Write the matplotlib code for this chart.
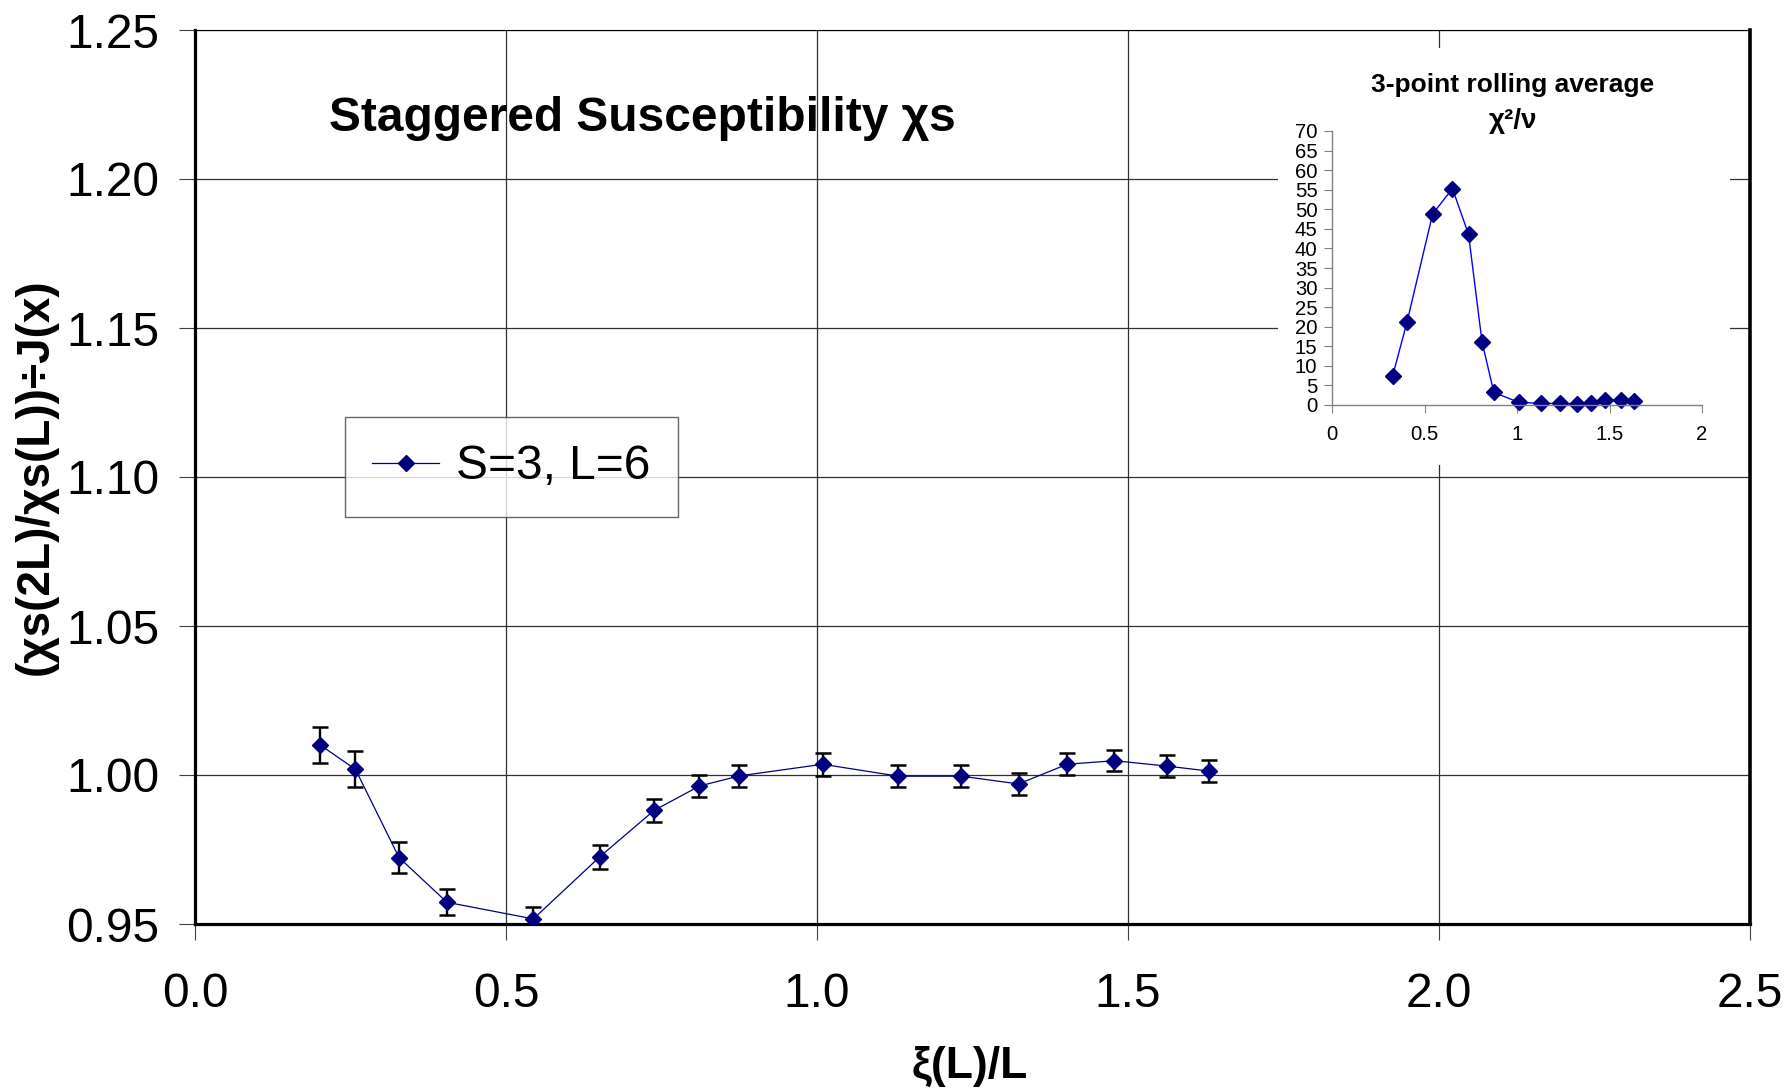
import matplotlib
matplotlib.use("Agg")
import matplotlib.pyplot as plt
from matplotlib.patches import Rectangle
from matplotlib.ticker import FormatStrFormatter, MultipleLocator

plt.rcParams['font.family'] = ['Liberation Sans', 'DejaVu Sans']

# Finite-size scaling ratio for S=3, L=6
xi_over_L = [0.201, 0.258, 0.328, 0.405, 0.544, 0.651, 0.738, 0.811, 0.875,
             1.009, 1.131, 1.232, 1.324, 1.402, 1.478, 1.562, 1.631]
ratio = [1.0101, 1.0019, 0.9723, 0.9573, 0.9517, 0.9726, 0.9881, 0.9963, 0.9997,
         1.0036, 0.9996, 0.9996, 0.9970, 1.0036, 1.0048, 1.0030, 1.0013]
ratio_err = [0.0060, 0.0060, 0.0051, 0.0043, 0.0041, 0.0040, 0.0038, 0.0038, 0.0038,
             0.0038, 0.0037, 0.0037, 0.0036, 0.0037, 0.0036, 0.0036, 0.0036]

# 3-point rolling average of chi^2 / nu (starts at the third point)
chi2_x = xi_over_L[2:]
chi2_nu = [7.5, 21.1, 48.8, 55.3, 43.6, 16.1, 3.2, 0.7, 0.4, 0.4, 0.3, 0.6, 1.3, 1.3, 1.1]

W, H = 1791, 1090
fig = plt.figure(figsize=(W / 100, H / 100), dpi=100)
fig.patch.set_facecolor('white')

navy = '#000080'

ax = fig.add_axes([195 / W, 1 - 924 / H, 1555 / W, 894 / H])
ax.set_xlim(0, 2.5)
ax.set_ylim(0.95, 1.25)
ax.xaxis.set_major_locator(MultipleLocator(0.5))
ax.yaxis.set_major_locator(MultipleLocator(0.05))
ax.xaxis.set_major_formatter(FormatStrFormatter('%.1f'))
ax.yaxis.set_major_formatter(FormatStrFormatter('%.2f'))
ax.grid(True, color='#303030', lw=0.9, zorder=0)
ax.set_axisbelow(True)

ax.tick_params(axis='both', direction='out', length=11.5, width=0.8,
               color='#404040', labelsize=34.5)
ax.tick_params(axis='x', pad=23)
ax.tick_params(axis='y', pad=14)

for side, lw in [('left', 2.3), ('bottom', 2.3), ('right', 2.6), ('top', 0.8)]:
    ax.spines[side].set_linewidth(lw)
    ax.spines[side].set_color('black')

ax.errorbar(xi_over_L, ratio, yerr=ratio_err, fmt='none', ecolor='black',
            elinewidth=1.7, capsize=5.7, capthick=1.8, zorder=3)
ax.plot(xi_over_L, ratio, color=navy, lw=0.9, marker='D', ms=8.0,
        mfc=navy, mec=navy, zorder=4, label='S=3, L=6')

leg = ax.legend(loc='upper left', bbox_to_anchor=(345 / W, 1 - 417 / H),
                bbox_transform=fig.transFigure, borderaxespad=0,
                fontsize=34.5, frameon=True, fancybox=False, shadow=False,
                borderpad=0.57, handlelength=1.4, handletextpad=0.35,
                numpoints=1)
leg.get_frame().set_edgecolor('#404040')
leg.get_frame().set_linewidth(1.0)

fig.text(642 / W, 1 - 131 / H, 'Staggered Susceptibility χs', ha='center',
         va='baseline', fontsize=34.5, fontweight='bold')
fig.text(970 / W, 1 - 1066 / H, 'ξ(L)/L', ha='center', va='center',
         fontsize=32, fontweight='bold')
fig.text(36 / W, 1 - 477 / H, '(χs(2L)/χs(L))÷J(x)', ha='center', va='center',
         rotation=90, fontsize=33, fontweight='bold')

# white panel behind the inset chart
fig.add_artist(Rectangle((1278 / W, 1 - 465 / H), 452 / W, 417 / H,
                         transform=fig.transFigure, facecolor='white',
                         edgecolor='none', zorder=1))

ax_in = fig.add_axes([1332 / W, 1 - 405 / H, 370 / W, 274 / H], zorder=2)
ax_in.set_facecolor('none')
ax_in.set_xlim(0, 2)
ax_in.set_ylim(0, 70)
ax_in.set_xticks([0, 0.5, 1, 1.5, 2])
ax_in.set_xticklabels(['0', '0.5', '1', '1.5', '2'])
ax_in.set_yticks(range(0, 71, 5))
ax_in.spines['top'].set_visible(False)
ax_in.spines['right'].set_visible(False)
for side in ('left', 'bottom'):
    ax_in.spines[side].set_color('#808080')
    ax_in.spines[side].set_linewidth(1.0)
ax_in.tick_params(axis='both', direction='out', length=5.5, width=0.8,
                  color='#808080', labelsize=14.6)
ax_in.tick_params(axis='x', pad=9)
ax_in.tick_params(axis='y', pad=5)
ax_in.plot(chi2_x, chi2_nu, color='#0000ff', lw=1.0, marker='D', ms=8.0,
           mfc=navy, mec=navy, clip_on=False)

fig.text(1513 / W, 1 - 91.7 / H, '3-point rolling average', ha='center',
         va='baseline', fontsize=19, fontweight='bold')
fig.text(1513 / W, 1 - 128 / H, 'χ²/ν', ha='center', va='baseline',
         fontsize=20, fontweight='bold')

fig.savefig('out.png', dpi=100)
